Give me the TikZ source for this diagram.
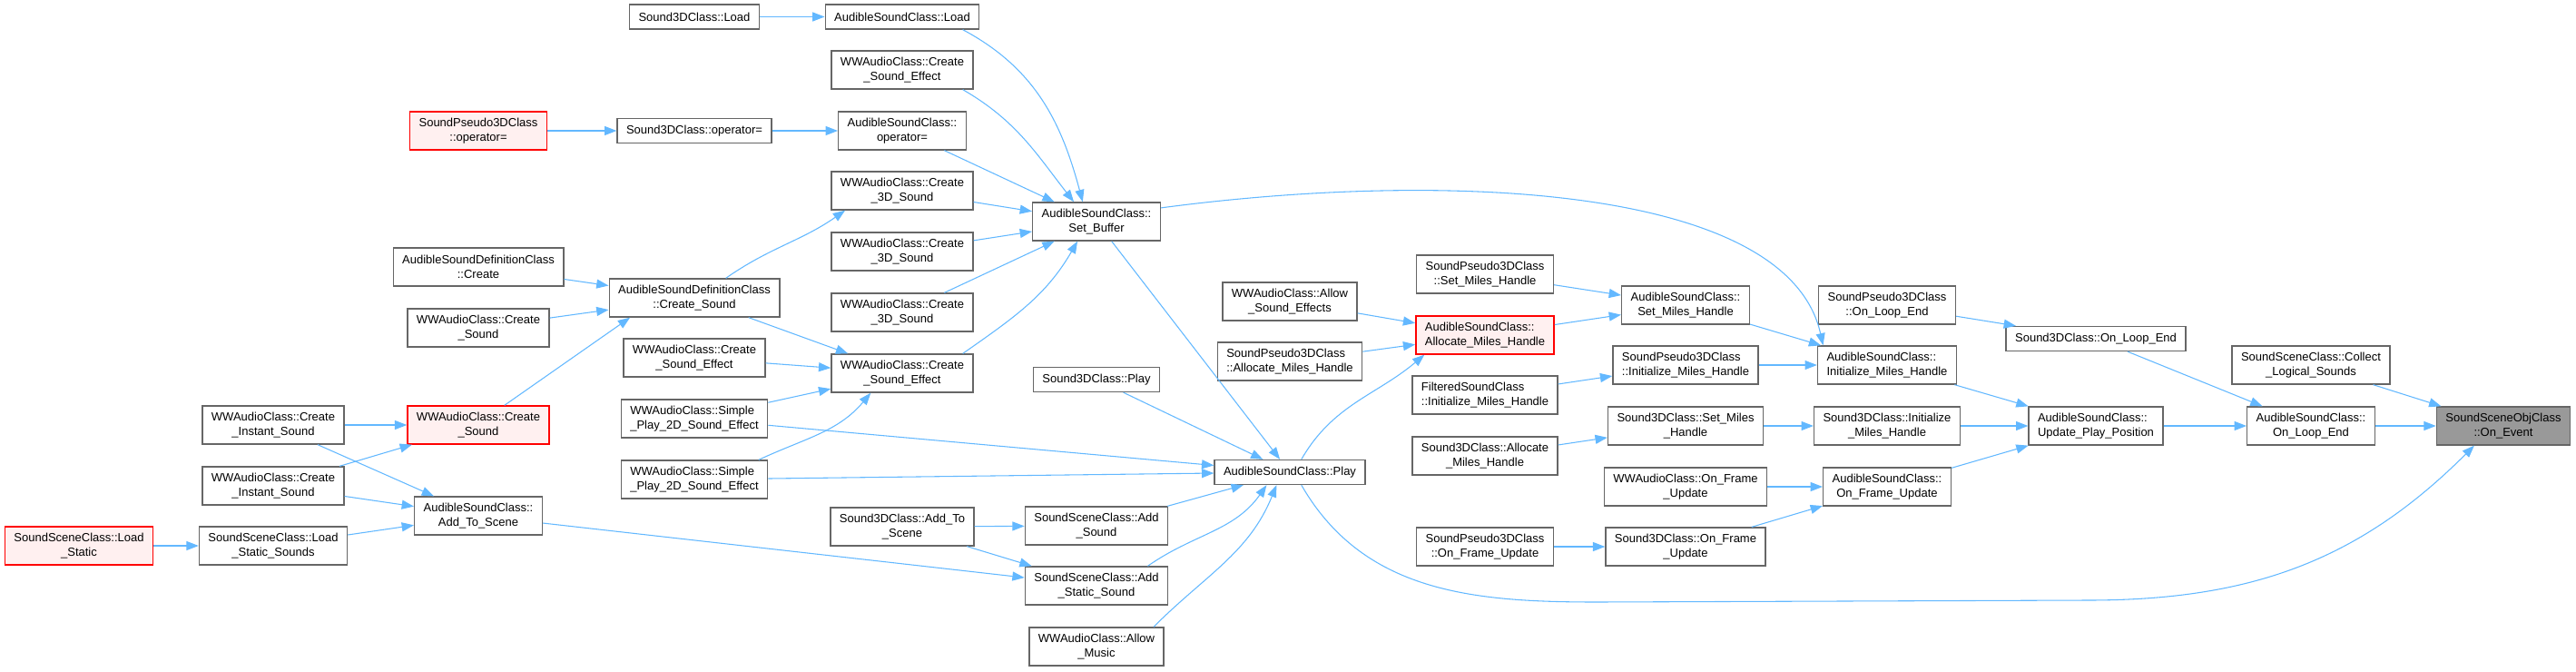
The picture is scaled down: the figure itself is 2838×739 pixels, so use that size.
\documentclass[tikz,border=0pt]{standalone}
\usepackage{fontspec}
\setmainfont{Liberation Sans}
\usetikzlibrary{arrows.meta}
\definecolor{edgeblue}{HTML}{63B8FF}
\definecolor{boxgray}{HTML}{666666}
\definecolor{hotfill}{HTML}{FFF0F0}
\definecolor{rootfill}{HTML}{999999}

\begin{document}
\begin{tikzpicture}[x=0.75pt,y=-0.75pt,
  every node/.style={font=\fontsize{9.75}{12}\selectfont},
  fn/.style={draw=boxgray,line width=1pt,fill=white,align=center,inner xsep=7.5pt,inner ysep=2pt,minimum height=31.5pt},
  one/.style={minimum height=20.25pt},
  lft/.style={align=left},
  hot/.style={draw=red,fill=hotfill},
  root/.style={fill=rootfill},
  call/.style={draw=edgeblue,line width=0.8pt,-{Triangle[length=10pt,width=7.5pt]}}]
  \useasboundingbox (0,0) rectangle (2838,739);
  \node[fn,hot] (lst) at (87,601) {SoundSceneClass::Load\\\_Static};
  \node[fn] (ins1) at (301,468) {WWAudioClass::Create\\\_Instant\_Sound};
  \node[fn] (ins2) at (301,535) {WWAudioClass::Create\\\_Instant\_Sound};
  \node[fn] (lsts) at (301,601) {SoundSceneClass::Load\\\_Static\_Sounds};
  \node[fn,hot] (psop) at (527,144) {SoundPseudo3DClass\\::operator=};
  \node[fn] (defc) at (527,294) {AudibleSoundDefinitionClass\\::Create};
  \node[fn] (wwcs) at (527,361) {WWAudioClass::Create\\\_Sound};
  \node[fn,hot] (crsnd) at (527,468) {WWAudioClass::Create\\\_Sound};
  \node[fn] (atsc) at (527,568) {AudibleSoundClass::\\Add\_To\_Scene};
  \node[fn,one] (ld3) at (765,18.5) {Sound3DClass::Load};
  \node[fn,one] (s3op) at (765,144) {Sound3DClass::operator=};
  \node[fn] (defcs) at (765,328) {AudibleSoundDefinitionClass\\::Create\_Sound};
  \node[fn] (cse1) at (765,394) {WWAudioClass::Create\\\_Sound\_Effect};
  \node[fn,lft] (sim1) at (765,461) {WWAudioClass::Simple\\\_Play\_2D\_Sound\_Effect};
  \node[fn,lft] (sim2) at (765,528) {WWAudioClass::Simple\\\_Play\_2D\_Sound\_Effect};
  \node[fn,one] (asld) at (994,18.5) {AudibleSoundClass::Load};
  \node[fn] (cse0) at (994,77) {WWAudioClass::Create\\\_Sound\_Effect};
  \node[fn] (asop) at (994,144) {AudibleSoundClass::\\operator=};
  \node[fn] (c3d1) at (994,210) {WWAudioClass::Create\\\_3D\_Sound};
  \node[fn] (c3d2) at (994,277) {WWAudioClass::Create\\\_3D\_Sound};
  \node[fn] (c3d3) at (994,344) {WWAudioClass::Create\\\_3D\_Sound};
  \node[fn] (cse2) at (994,411) {WWAudioClass::Create\\\_Sound\_Effect};
  \node[fn] (s3sc) at (994,580) {Sound3DClass::Add\_To\\\_Scene};
  \node[fn] (setbuf) at (1208,244) {AudibleSoundClass::\\Set\_Buffer};
  \node[fn,one] (s3pl) at (1208,418) {Sound3DClass::Play};
  \node[fn] (adsnd) at (1208,579) {SoundSceneClass::Add\\\_Sound};
  \node[fn] (adst) at (1208,645) {SoundSceneClass::Add\\\_Static\_Sound};
  \node[fn] (amus) at (1208,712) {WWAudioClass::Allow\\\_Music};
  \node[fn] (afx) at (1421,332) {WWAudioClass::Allow\\\_Sound\_Effects};
  \node[fn,lft] (psal) at (1421,398) {SoundPseudo3DClass\\::Allocate\_Miles\_Handle};
  \node[fn,one] (play) at (1421,520) {AudibleSoundClass::Play};
  \node[fn] (pssm) at (1636,302) {SoundPseudo3DClass\\::Set\_Miles\_Handle};
  \node[fn,hot,lft] (alloc) at (1636,369) {AudibleSoundClass::\\Allocate\_Miles\_Handle};
  \node[fn,lft] (filt) at (1636,435) {FilteredSoundClass\\::Initialize\_Miles\_Handle};
  \node[fn] (s3al) at (1636,502) {Sound3DClass::Allocate\\\_Miles\_Handle};
  \node[fn] (psfr) at (1636,602) {SoundPseudo3DClass\\::On\_Frame\_Update};
  \node[fn] (setm) at (1857,336) {AudibleSoundClass::\\Set\_Miles\_Handle};
  \node[fn,lft] (psin) at (1857,402) {SoundPseudo3DClass\\::Initialize\_Miles\_Handle};
  \node[fn] (s3sm) at (1857,469) {Sound3DClass::Set\_Miles\\\_Handle};
  \node[fn] (wwfr) at (1857,536) {WWAudioClass::On\_Frame\\\_Update};
  \node[fn] (s3fr) at (1857,602) {Sound3DClass::On\_Frame\\\_Update};
  \node[fn] (pslp) at (2079,336) {SoundPseudo3DClass\\::On\_Loop\_End};
  \node[fn,lft] (initm) at (2079,402) {AudibleSoundClass::\\Initialize\_Miles\_Handle};
  \node[fn] (s3in) at (2079,469) {Sound3DClass::Initialize\\\_Miles\_Handle};
  \node[fn] (frm) at (2079,536) {AudibleSoundClass::\\On\_Frame\_Update};
  \node[fn,one] (s3lp) at (2309,373) {Sound3DClass::On\_Loop\_End};
  \node[fn,lft] (updp) at (2309,469) {AudibleSoundClass::\\Update\_Play\_Position};
  \node[fn] (coll) at (2546,402) {SoundSceneClass::Collect\\\_Logical\_Sounds};
  \node[fn] (lpend) at (2546,469) {AudibleSoundClass::\\On\_Loop\_End};
  \node[fn,root] (onev) at (2758,469) {SoundSceneObjClass\\::On\_Event};

  \draw[call] (ld3) -- (asld);
  \draw[call] (asld.-12) to[out=-28,in=105] (setbuf.125);
  \draw[call] (cse0.-18) to[out=-30,in=128] (setbuf.139);
  \draw[call] (psop) -- (s3op);
  \draw[call] (s3op) -- (asop);
  \draw[call] (asop) -- (setbuf);
  \draw[call] (c3d1) -- (setbuf);
  \draw[call] (c3d2) -- (setbuf);
  \draw[call] (c3d3) -- (setbuf);
  \draw[call] (cse2.18) to[out=35,in=-120] (setbuf.-134);
  \draw[call] (defc) -- (defcs);
  \draw[call] (wwcs) -- (defcs);
  \draw[call] (crsnd.37) -- (defcs.-163);
  \draw[call] (defcs.32) to[out=35,in=-145] (c3d1.-161);
  \draw[call] (defcs) -- (cse2);
  \draw[call] (cse1) -- (cse2);
  \draw[call] (sim1) -- (cse2);
  \draw[call] (sim2.17) to[out=25,in=-130] (cse2.-148);
  \draw[call] (sim1) -- (play);
  \draw[call] (sim2) -- (play);
  \draw[call] (ins1) -- (crsnd);
  \draw[call] (ins2) -- (crsnd);
  \draw[call] (ins1) -- (atsc);
  \draw[call] (ins2) -- (atsc);
  \draw[call] (lst) -- (lsts);
  \draw[call] (lsts) -- (atsc);
  \draw[call] (atsc) -- (adst);
  \draw[call] (s3sc) -- (adsnd);
  \draw[call] (s3sc) -- (adst);
  \draw[call] (adsnd) -- (play);
  \draw[call] (adst.21) to[out=35,in=-125] (play.-151);
  \draw[call] (amus.19) to[out=45,in=-112] (play.-136);
  \draw[call] (s3pl) -- (play);
  \draw[call] (setbuf) -- (play);
  \draw[call] (play.48) to[out=60,in=-140] (alloc.-162);
  \draw[call] (afx) -- (alloc);
  \draw[call] (psal) -- (alloc);
  \draw[call] (alloc) -- (setm);
  \draw[call] (pssm) -- (setm);
  \draw[call] (setm) -- (initm);
  \draw[call] (psin) -- (initm);
  \draw[call] (filt) -- (psin);
  \draw[call] (setbuf.12) .. controls +(300,-40) and +(-40,-180) .. ([xshift=5pt]initm.north west);
  \draw[call] (s3al) -- (s3sm);
  \draw[call] (s3sm) -- (s3in);
  \draw[call] (wwfr) -- (frm);
  \draw[call] (psfr) -- (s3fr);
  \draw[call] (s3fr) -- (frm);
  \draw[call] (pslp) -- (s3lp);
  \draw[call] (initm) -- (updp);
  \draw[call] (s3in) -- (updp);
  \draw[call] (frm) -- (updp);
  \draw[call] (updp) -- (lpend);
  \draw[call] (s3lp) -- (lpend);
  \draw[call] (coll) -- (onev);
  \draw[call] (lpend) -- (onev);
  \draw[call] (play.-48) to[out=-60,in=180] (1760,663) -- (2300,661) to[out=0,in=-135] (onev.-146);
\end{tikzpicture}
\end{document}
